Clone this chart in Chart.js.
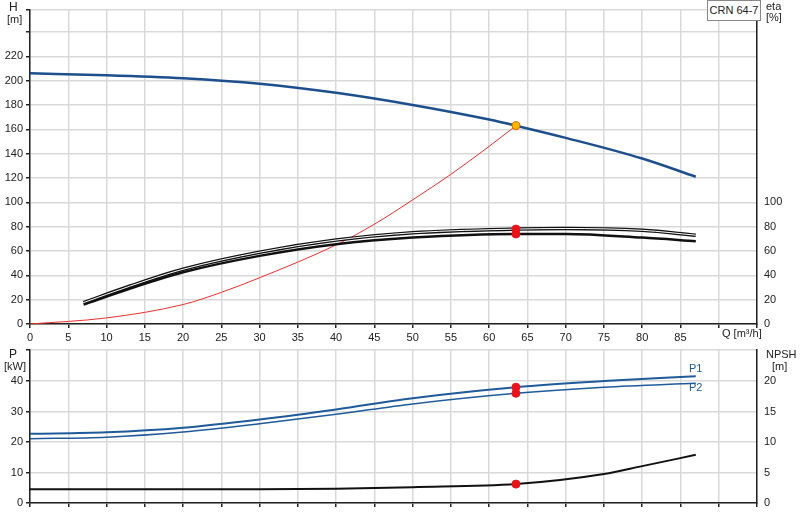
<!DOCTYPE html><html><head><meta charset="utf-8">
<script src="https://cdn.jsdelivr.net/npm/chart.js@4"></script>
<style>
body{margin:0;width:800px;height:520px;background:#fff;position:relative;font-family:"Liberation Sans",Arial,sans-serif;overflow:hidden}
canvas{position:absolute;left:0}
.t{position:absolute;font-size:11px;color:#222;white-space:nowrap}
</style></head><body>
<canvas id="c1" style="top:0;width:800px;height:345px" width="800" height="345"></canvas>
<canvas id="c2" style="top:340px;width:800px;height:180px" width="800" height="180"></canvas>
<div class="t" style="left:9px;top:0px;font-size:12px">H</div><div class="t" style="left:7px;top:13px">[m]</div>
<div class="t" style="left:766px;top:0px">eta</div><div class="t" style="left:766px;top:11px">[%]</div>
<div class="t" style="left:9px;top:347px;font-size:12px">P</div><div class="t" style="left:4px;top:360px">[kW]</div>
<div class="t" style="left:766px;top:348px">NPSH</div><div class="t" style="left:772px;top:360px">[m]</div>
<div class="t" style="left:722px;top:327px">Q [m³/h]</div>
<div class="t" style="left:689px;top:362px;color:#1f5b9a">P1</div>
<div class="t" style="left:689px;top:381px;color:#1f5b9a">P2</div>
<div class="t" style="left:707px;top:0;width:52px;height:19px;border:1px solid #888;background:#fff;text-align:center;line-height:18px">CRN 64-7</div>
<script>
const qH=[0,10,20,30,40,50,60,63.5,70,80,87];
const H=[206,204.5,202,197.5,190,180,168,163,153,136,121];
const qEta=[7,13,20,30,40,50,63.5,70,80,87];
const eta1=[17.6,31,45,59,69,75,78,78.5,77,73];
const eta2=[16,29,42.5,56,65.6,71,74,74,71,68];
const qSys=[0,10,20,25,30,40,45,50,55,60,63.5];
const sys=[0,5,16,26,38,65,82,102,123,146,163];
const qP=[0,10,20,30,40,50,63.5,75,87];
const P1=[22.7,23.2,24.7,27.4,30.7,34.4,38,40,41.6];
const P2=[21.1,21.6,23.3,26,29.1,32.5,36,38,39.3];
const qN=[0,30,40,50,63.5,75,80,87];
const npsh=[2.25,2.25,2.35,2.6,3.1,4.75,6.05,7.9];
const xy=(xs,ys)=>xs.map((x,i)=>({x,y:ys[i]}));
Chart.defaults.font.family='"Liberation Sans",Arial,sans-serif';
Chart.defaults.font.size=11;Chart.defaults.color='#222';
const grid={color:'#d9d9d9',lineWidth:1.5,tickColor:'#222',tickLength:4};
const line=(data,color,w,extra)=>Object.assign({data,borderColor:color,borderWidth:w,pointRadius:0,fill:false,cubicInterpolationMode:'monotone',yAxisID:'y'},extra||{});
const pt=(x,y,c,ax)=>({type:'scatter',data:[{x,y}],pointRadius:4,pointBackgroundColor:c,pointBorderColor:c==='#f5b800'?'#e06000':c,borderWidth:1,yAxisID:ax||'y'});
new Chart(document.getElementById('c1'),{type:'line',data:{datasets:[
 pt(63.5,163,'#f5b800'),pt(63.5,78,'#e8131b'),pt(63.5,74,'#e8131b'),
 line(xy(qH,H),'#1d4f8c',2.5),
 line(xy(qEta,eta1),'#fff',1),
 line(xy(qEta,eta1),'#111',3.5),
 line(xy(qEta,eta2),'#111',2.5),
 line(xy(qSys,sys),'#f03030',1)
]},options:{animation:false,responsive:false,devicePixelRatio:1,layout:{padding:{top:1,left:0,right:0,bottom:0}},
plugins:{legend:{display:false},tooltip:{enabled:false}},
scales:{x:{type:'linear',min:0,max:95,grid:grid,border:{color:'#222',width:1.5},ticks:{stepSize:5,maxRotation:0,autoSkip:false,callback:v=>v>=90?'':v},afterFit:s=>{s.height=21}},
y:{position:'left',min:0,max:258.4,grid:grid,border:{color:'#222',width:1.5},ticks:{stepSize:20,callback:v=>v>=240?'':v},afterFit:s=>{s.width=30}},
y2:{position:'right',min:0,max:258.4,grid:{display:false,tickColor:'#222',tickLength:4},border:{color:'#222',width:1.5},ticks:{stepSize:20,callback:v=>v>100?'':v},afterFit:s=>{s.width=43}}}}});
new Chart(document.getElementById('c2'),{type:'line',data:{datasets:[
 pt(63.5,38,'#e8131b'),pt(63.5,36,'#e8131b'),pt(63.5,3.1,'#e8131b','y2'),
 line(xy(qP,P1),'#1f5b9a',2),line(xy(qP,P2),'#1f5b9a',1.5),
 line(xy(qN,npsh),'#111',2,{yAxisID:'y2'})
]},options:{animation:false,responsive:false,devicePixelRatio:1,layout:{padding:{top:10,left:0,right:0,bottom:0}},
plugins:{legend:{display:false},tooltip:{enabled:false}},
scales:{x:{type:'linear',min:0,max:95,grid:grid,border:{color:'#222',width:1.5},ticks:{stepSize:5,display:false},afterFit:s=>{s.height=17}},
y:{position:'left',min:0,max:50.2,grid:grid,border:{color:'#222',width:1.5},ticks:{stepSize:10,callback:v=>v>40?'':v},afterFit:s=>{s.width=30}},
y2:{position:'right',min:0,max:25.1,grid:{display:false,tickColor:'#222',tickLength:4},border:{color:'#222',width:1.5},ticks:{stepSize:5,callback:v=>v>20?'':v},afterFit:s=>{s.width=43}}}}});
</script></body></html>
